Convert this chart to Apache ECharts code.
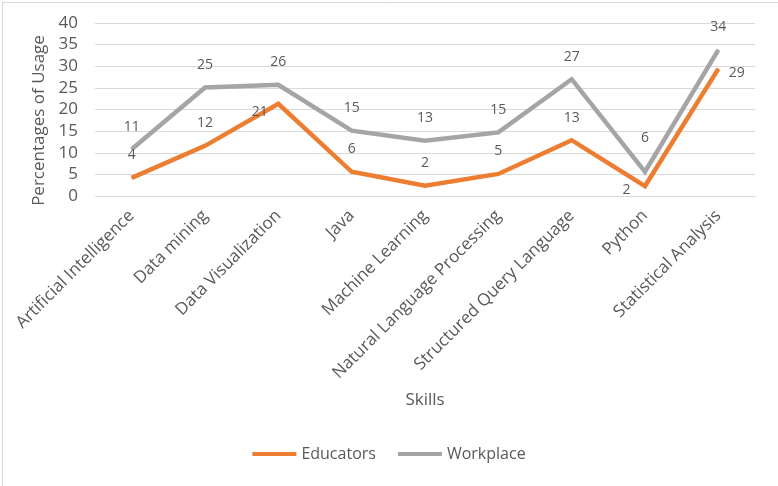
<!DOCTYPE html>
<html>
<head>
<meta charset="utf-8">
<script src="https://cdn.jsdelivr.net/npm/echarts@6/dist/echarts.min.js"></script>
<style>
html,body{margin:0;padding:0;background:#fff;}
#chart{width:778px;height:486px;}
</style>
</head>
<body>
<div id="chart"></div>
<script>
const categories = ['Artificial Intelligence','Data mining','Data Visualization','Java','Machine Learning','Natural Language Processing','Structured Query Language','Python','Statistical Analysis'];
const educators = [4.2, 11.6, 21.3, 5.6, 2.4, 5.1, 12.9, 2.3, 29.4];
const workplace = [10.8, 25.1, 25.7, 15.1, 12.8, 14.7, 27.0, 5.6, 33.8];
const yTicks = {min: 0, max: 40, interval: 5};

const FONT = 'Open Sans';
const TXT = '#595959';

const chart = echarts.init(document.getElementById('chart'));

const eduLabelOverrides = {
  2: {position: 'left', distance: 10, offset: [0, 8]},
  7: {position: 'left', distance: 14, offset: [0, 4]},
  8: {position: 'right', distance: 10, offset: [0, 4]}
};
const wpLabelOverrides = {
  7: {position: 'top', distance: 26}
};

function buildData(vals, overrides) {
  return vals.map((v, i) => overrides[i] ? {value: v, label: overrides[i]} : v);
}

chart.setOption({
  animation: false,
  color: ['#ED7D31', '#A5A5A5'],
  textStyle: {fontFamily: FONT, color: TXT},
  graphic: [{
    type: 'rect', left: 0, top: 0,
    shape: {x: 0.5, y: 0.5, width: 777, height: 485},
    style: {fill: 'none', stroke: '#D9D9D9', lineWidth: 1}, silent: true, z: -10
  }],
  grid: {left: 95, right: 23, top: 23, bottom: 290, containLabel: false},
  legend: {
    bottom: 19, left: 'center',
    itemWidth: 44, itemHeight: 4, itemGap: 22,
    icon: 'rect',
    textStyle: {fontFamily: FONT, fontSize: 16, color: TXT},
    data: ['Educators', 'Workplace']
  },
  xAxis: {
    type: 'category',
    data: categories,
    boundaryGap: true,
    name: 'Skills',
    nameLocation: 'middle',
    nameGap: 196,
    nameTextStyle: {fontFamily: FONT, fontSize: 17, color: TXT},
    axisLine: {lineStyle: {color: '#D9D9D9', width: 1}},
    axisTick: {show: false},
    axisLabel: {rotate: 45, margin: 17, fontFamily: FONT, fontSize: 17, color: TXT, interval: 0}
  },
  yAxis: {
    type: 'value',
    min: yTicks.min, max: yTicks.max, interval: yTicks.interval,
    name: 'Percentages of Usage',
    nameLocation: 'middle',
    nameGap: 45,
    nameTextStyle: {fontFamily: FONT, fontSize: 17, color: TXT, padding: [0, 22, 0, 0]},
    axisLine: {show: false},
    axisTick: {show: false},
    axisLabel: {margin: 17, fontFamily: FONT, fontSize: 17, color: TXT},
    splitLine: {lineStyle: {color: '#D9D9D9', width: 1}}
  },
  series: [
    {
      name: 'Educators', type: 'line',
      data: buildData(educators, eduLabelOverrides),
      symbol: 'circle', symbolSize: 1, showSymbol: true,
      lineStyle: {width: 4.5, color: '#ED7D31', join: 'miter'},
      itemStyle: {color: '#ED7D31'},
      label: {show: true, position: 'top', distance: 15, fontFamily: FONT, fontSize: 14, color: TXT,
        formatter: p => Math.round(p.value)},
      z: 3
    },
    {
      name: 'Workplace', type: 'line',
      data: buildData(workplace, wpLabelOverrides),
      symbol: 'circle', symbolSize: 1, showSymbol: true,
      lineStyle: {width: 4.5, color: '#A5A5A5', join: 'miter'},
      itemStyle: {color: '#A5A5A5'},
      label: {show: true, position: 'top', distance: 15, fontFamily: FONT, fontSize: 14, color: TXT,
        formatter: p => Math.round(p.value)},
      z: 2
    }
  ]
});
</script>
</body>
</html>
